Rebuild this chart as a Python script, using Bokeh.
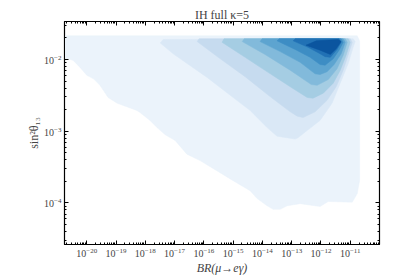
from bokeh.plotting import figure
from bokeh.models import Range1d, LogAxis, FixedTicker
from bokeh.embed import file_html
from bokeh.resources import INLINE

title_text = "IH full κ=5"
x_label = "BR(μ→eγ)"
y_label = "sin²θ₁₃"

# axis extents (log10)
x_lim_exp = [-20.76, -10.0]
y_lim_exp = [-4.58, -1.47]

# tick decades (log10) and minor multipliers
x_tick_exp = [-20, -19, -18, -17, -16, -15, -14, -13, -12, -11]
y_tick_exp = [-4, -3, -2]
minor_mult = [2, 3, 4, 5, 6, 7, 8, 9]

# filled contour levels, outermost first: vertices as log10(BR), log10(sin^2 theta13)
level_colors = ["#ebf3fb", "#dae8f6", "#c6dbef", "#a5cde3", "#82badb",
                "#5da4d0", "#3d8dc4", "#2171b5", "#0b559f"]

lvl1_x = [-20.74, -20.47, -20.23, -20.0, -19.77, -19.55, -19.27, -18.96, -18.29, -18.18,
          -17.84, -17.60, -17.32, -16.98, -16.58, -16.13, -15.56, -15.0, -14.42, -14.18,
          -13.84, -13.63, -13.39, -13.15, -12.71, -12.03, -11.75, -10.93, -10.76, -10.68,
          -10.68, -10.76, -20.74]
lvl1_y = [-1.98, -2.01, -2.11, -2.22, -2.27, -2.36, -2.53, -2.61, -2.71, -2.74,
          -2.85, -2.95, -3.05, -3.13, -3.32, -3.41, -3.55, -3.69, -3.83, -3.94,
          -4.04, -4.09, -4.09, -4.04, -4.01, -4.05, -3.98, -3.99, -3.87, -3.69,
          -1.74, -1.67, -1.67]

lvl2_x = [-17.49, -17.39, -10.90, -10.83, -10.90, -11.07, -11.34, -11.62, -12.03, -12.47,
          -12.78, -12.88, -13.02, -13.50, -13.84, -14.42, -15.0, -15.89, -17.05]
lvl2_y = [-1.77, -1.72, -1.71, -1.75, -1.83, -2.06, -2.33, -2.61, -2.85, -2.99,
          -3.09, -3.11, -3.10, -3.07, -2.95, -2.71, -2.53, -2.25, -1.92]

lvl3_x = [-16.23, -16.16, -11.0, -10.93, -11.04, -11.24, -11.48, -11.79, -12.20, -12.61,
          -12.81, -13.05, -13.73, -14.59, -15.44]
lvl3_y = [-1.75, -1.71, -1.71, -1.76, -1.90, -2.15, -2.38, -2.57, -2.73, -2.81,
          -2.79, -2.73, -2.52, -2.24, -1.99]

lvl4_x = [-15.38, -15.31, -11.07, -11.0, -11.14, -11.34, -11.58, -11.92, -12.27, -12.47,
          -13.05, -13.73, -14.59]
lvl4_y = [-1.76, -1.71, -1.71, -1.76, -1.94, -2.15, -2.33, -2.47, -2.54, -2.53,
          -2.38, -2.20, -1.97]

lvl5_x = [-14.69, -14.62, -11.17, -11.10, -11.24, -11.45, -11.75, -12.13, -12.33, -13.05, -13.91]
lvl5_y = [-1.75, -1.71, -1.71, -1.76, -1.94, -2.13, -2.28, -2.36, -2.35, -2.15, -1.93]

lvl6_x = [-14.08, -14.01, -11.24, -11.17, -11.31, -11.55, -11.79, -12.03, -12.20, -12.71, -13.39]
lvl6_y = [-1.75, -1.71, -1.71, -1.76, -1.92, -2.07, -2.17, -2.21, -2.20, -2.04, -1.89]

lvl7_x = [-13.50, -13.43, -11.31, -11.24, -11.38, -11.58, -11.86, -12.03, -12.37, -12.88]
lvl7_y = [-1.74, -1.71, -1.71, -1.76, -1.87, -1.99, -2.08, -2.07, -1.97, -1.86]

lvl8_x = [-12.95, -12.88, -11.38, -11.31, -11.45, -11.68, -11.86, -12.03, -12.44]
lvl8_y = [-1.74, -1.71, -1.71, -1.76, -1.86, -1.97, -1.96, -1.92, -1.83]

lvl9_x = [-12.51, -12.16, -11.41, -11.31, -11.48, -11.68, -12.03]
lvl9_y = [-1.80, -1.74, -1.72, -1.75, -1.85, -1.93, -1.87]

levels_x = [lvl1_x, lvl2_x, lvl3_x, lvl4_x, lvl5_x, lvl6_x, lvl7_x, lvl8_x, lvl9_x]
levels_y = [lvl1_y, lvl2_y, lvl3_y, lvl4_y, lvl5_y, lvl6_y, lvl7_y, lvl8_y, lvl9_y]

FONT = "Liberation Serif"


def make_ticker(decades, lo, hi):
    majors = [10.0 ** d for d in decades]
    minors = [m * 10.0 ** d for d in range(int(lo) - 1, int(hi) + 1) for m in minor_mult]
    return FixedTicker(ticks=majors, minor_ticks=minors)


x_ticker = make_ticker(x_tick_exp, x_lim_exp[0], x_lim_exp[1])
y_ticker = make_ticker(y_tick_exp, y_lim_exp[0], y_lim_exp[1])

p = figure(
    x_axis_type="log", y_axis_type="log",
    x_range=Range1d(10 ** x_lim_exp[0], 10 ** x_lim_exp[1]),
    y_range=Range1d(10 ** y_lim_exp[0], 10 ** y_lim_exp[1]),
    frame_width=315, frame_height=223,
    min_border_left=64, min_border_right=28, min_border_top=21, min_border_bottom=35,
    output_backend="svg", toolbar_location=None,
    title=title_text,
)
p.title.text_font = FONT
p.title.text_font_size = "12px"
p.title.text_font_style = "normal"
p.title.align = "center"
p.title.standoff = 0
p.title.offset = 0

for xs, ys, c in zip(levels_x, levels_y, level_colors):
    p.patch([10 ** v for v in xs], [10 ** v for v in ys],
            fill_color=c, line_color=c, line_width=0.5)

p.grid.visible = False
p.outline_line_color = "black"
p.outline_line_width = 1.2
p.background_fill_color = "white"
p.border_fill_color = "white"

for ax, tk in [(p.xaxis[0], x_ticker), (p.yaxis[0], y_ticker)]:
    ax.ticker = tk
    ax.major_tick_in = 4
    ax.major_tick_out = 0
    ax.minor_tick_in = 2
    ax.minor_tick_out = 0
    ax.major_label_text_font = FONT
    ax.major_label_text_font_size = "10px"
    ax.axis_label_text_font = FONT
    ax.axis_label_text_font_size = "12px"
    ax.major_label_standoff = 3
    ax.axis_label_standoff = 1
    ax.axis_line_color = "black"

p.xaxis[0].axis_label = x_label
p.xaxis[0].axis_label_text_font_style = "italic"
p.yaxis[0].axis_label = y_label
p.yaxis[0].axis_label_text_font_style = "normal"
p.yaxis[0].axis_label_standoff = 0

for side, tk in [("above", x_ticker), ("right", y_ticker)]:
    ax = LogAxis(ticker=tk)
    ax.major_tick_in = 4
    ax.major_tick_out = 0
    ax.minor_tick_in = 2
    ax.minor_tick_out = 0
    ax.major_label_text_font_size = "1px"
    ax.major_label_text_color = None
    ax.major_label_standoff = 0
    ax.axis_line_color = "black"
    p.add_layout(ax, side)

open("out.html", "w").write(file_html(p, INLINE))
